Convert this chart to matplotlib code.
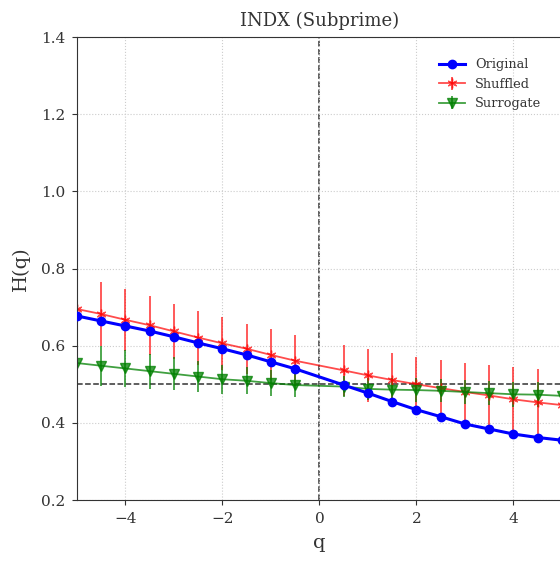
import matplotlib
matplotlib.use("Agg")
import matplotlib.pyplot as plt
import numpy as np

plt.rcParams['font.family'] = ['DejaVu Serif']

q = np.array([-5, -4.5, -4, -3.5, -3, -2.5, -2, -1.5, -1, -0.5,
              0.5, 1, 1.5, 2, 2.5, 3, 3.5, 4, 4.5, 5])

h_original = [0.677, 0.664, 0.651, 0.638, 0.623, 0.607, 0.592, 0.576, 0.558, 0.540,
              0.498, 0.477, 0.455, 0.434, 0.416, 0.397, 0.384, 0.371, 0.362, 0.355]

h_shuffled = [0.695, 0.682, 0.667, 0.653, 0.637, 0.621, 0.606, 0.592, 0.576, 0.561,
              0.536, 0.523, 0.511, 0.500, 0.490, 0.480, 0.471, 0.461, 0.453, 0.446]
err_shuffled = [0.087, 0.083, 0.080, 0.076, 0.071, 0.070, 0.068, 0.065, 0.066, 0.066,
                0.066, 0.068, 0.070, 0.071, 0.073, 0.076, 0.079, 0.083, 0.086, 0.088]

h_surrogate = [0.555, 0.548, 0.541, 0.534, 0.527, 0.520, 0.513, 0.509, 0.503, 0.498,
               0.494, 0.488, 0.486, 0.485, 0.483, 0.480, 0.477, 0.474, 0.473, 0.470]
err_surrogate = [0.055, 0.052, 0.048, 0.045, 0.043, 0.041, 0.038, 0.035, 0.033, 0.030,
                 0.028, 0.029, 0.029, 0.030, 0.030, 0.031, 0.031, 0.032, 0.032, 0.033]

fig = plt.figure(figsize=(5.6, 5.62), dpi=100)
ax = fig.add_axes([0.1375, 0.1103, 0.866, 0.8238])

ax.plot(q, h_original, color='blue', marker='o', markersize=6, linewidth=2.2,
        label='Original', zorder=3)
ax.errorbar(q, h_shuffled, yerr=err_shuffled, color='red', alpha=0.7,
            marker=(6, 2, 0), markersize=7, linewidth=1.3, elinewidth=1.3,
            capsize=0, label='Shuffled', zorder=2)
ax.errorbar(q, h_surrogate, yerr=err_surrogate, color='green', alpha=0.75,
            marker='v', markersize=6.5, linewidth=1.3, elinewidth=1.3,
            capsize=0, label='Surrogate', zorder=2)

ax.axhline(0.5, color='#333333', linestyle='--', linewidth=1.1, zorder=1)
ax.axvline(0, color='#333333', linestyle='--', linewidth=1.1, zorder=1)

ax.set_xlim(-5, 5)
ax.set_ylim(0.2, 1.4)
ax.set_xticks([-4, -2, 0, 2, 4])
ax.set_yticks([0.2, 0.4, 0.6, 0.8, 1.0, 1.2, 1.4])
ax.grid(True, linestyle=':', color='#cccccc', linewidth=0.8)
ax.tick_params(labelsize=11, colors='#333333', pad=5)
for s in ax.spines.values():
    s.set_color('#333333')

ax.set_title('INDX (Subprime)', fontsize=13, color='#333333', pad=8)
ax.set_xlabel('q', fontsize=14, color='#333333', labelpad=6)
ax.set_ylabel('H(q)', fontsize=14, color='#333333', labelpad=8)

leg = ax.legend(loc='upper right', frameon=False, fontsize=9.3,
                bbox_to_anchor=(0.982, 0.979))
for t in leg.get_texts():
    t.set_color('#333333')

fig.savefig('out.png', dpi=100)
